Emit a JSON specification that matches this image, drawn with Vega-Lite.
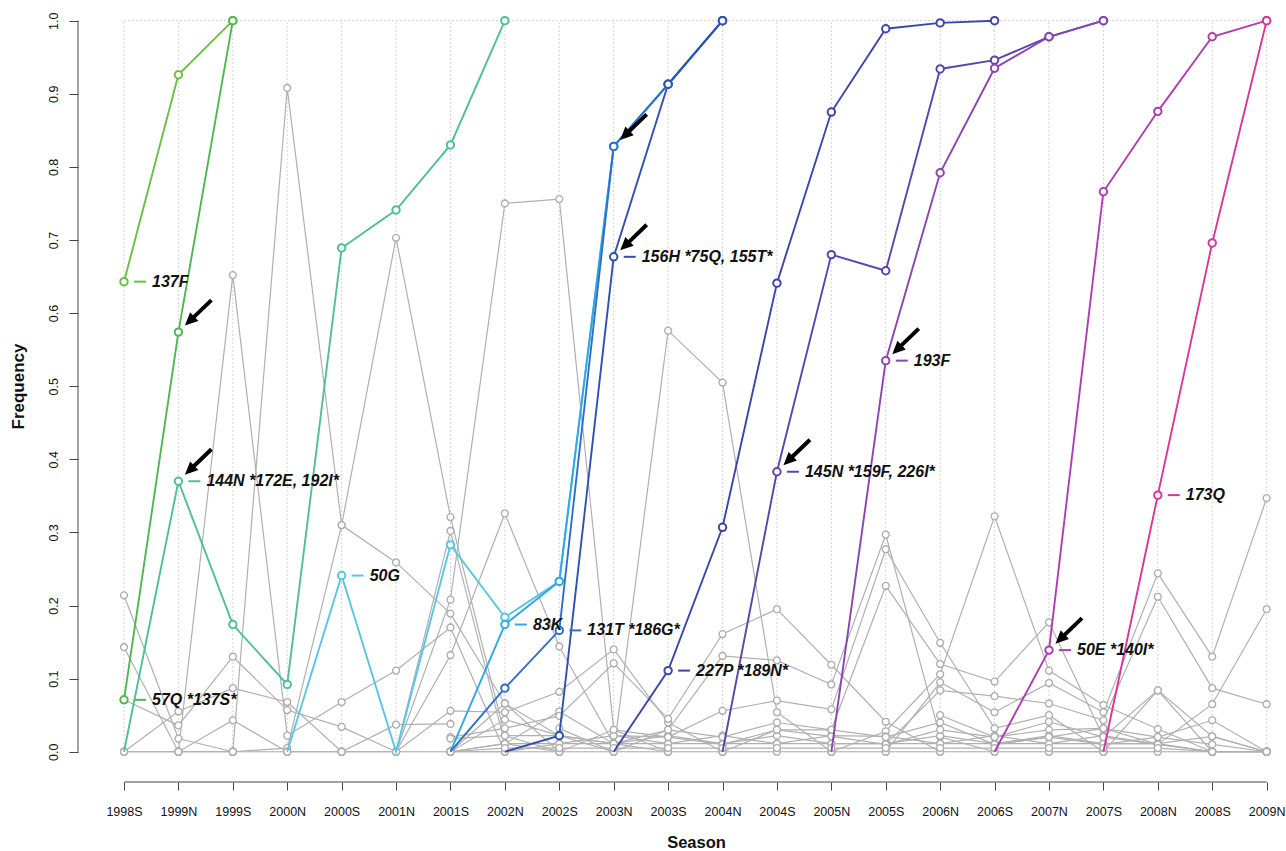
{
  "$schema": "https://vega.github.io/schema/vega-lite/v6.json",
  "width": 1208,
  "height": 782,
  "autosize": {"type": "none"},
  "padding": {"left": 78, "top": 0, "right": 0, "bottom": 69},
  "background": "white",
  "config": {"view": {"stroke": null}},
  "datasets": {
    "seasons": [
      {"i":0,"s":"1998S"},{"i":1,"s":"1999N"},{"i":2,"s":"1999S"},{"i":3,"s":"2000N"},{"i":4,"s":"2000S"},{"i":5,"s":"2001N"},{"i":6,"s":"2001S"},{"i":7,"s":"2002N"},{"i":8,"s":"2002S"},{"i":9,"s":"2003N"},{"i":10,"s":"2003S"},{"i":11,"s":"2004N"},{"i":12,"s":"2004S"},{"i":13,"s":"2005N"},{"i":14,"s":"2005S"},{"i":15,"s":"2006N"},{"i":16,"s":"2006S"},{"i":17,"s":"2007N"},{"i":18,"s":"2007S"},{"i":19,"s":"2008N"},{"i":20,"s":"2008S"},{"i":21,"s":"2009N"}
    ],
    "gray": [
      {"g":"g1","i":0,"v":0.214},{"g":"g1","i":1,"v":0.018},{"g":"g1","i":2,"v":0},
      {"g":"g2","i":0,"v":0.143},{"g":"g2","i":1,"v":0},{"g":"g2","i":2,"v":0.043},{"g":"g2","i":3,"v":0},
      {"g":"g3","i":0,"v":0.071},{"g":"g3","i":1,"v":0.036},{"g":"g3","i":2,"v":0.13},{"g":"g3","i":3,"v":0.057},{"g":"g3","i":4,"v":0.034},{"g":"g3","i":5,"v":0},
      {"g":"g4","i":0,"v":0},{"g":"g4","i":1,"v":0.055},{"g":"g4","i":2,"v":0.087},{"g":"g4","i":3,"v":0.068},{"g":"g4","i":4,"v":0},{"g":"g4","i":5,"v":0.037},{"g":"g4","i":6,"v":0.038},
      {"g":"g5","i":0,"v":0},{"g":"g5","i":1,"v":0},{"g":"g5","i":2,"v":0.652},{"g":"g5","i":3,"v":0.022},{"g":"g5","i":4,"v":0.068},{"g":"g5","i":5,"v":0.111},{"g":"g5","i":6,"v":0.17},{"g":"g5","i":7,"v":0},
      {"g":"g6","i":1,"v":0},{"g":"g6","i":2,"v":0},{"g":"g6","i":3,"v":0.908},{"g":"g6","i":4,"v":0.31},{"g":"g6","i":5,"v":0.259},{"g":"g6","i":6,"v":0.189},{"g":"g6","i":7,"v":0.066},{"g":"g6","i":8,"v":0},
      {"g":"g7","i":2,"v":0},{"g":"g7","i":3,"v":0.005},{"g":"g7","i":4,"v":0.31},{"g":"g7","i":5,"v":0.703},{"g":"g7","i":6,"v":0.321},{"g":"g7","i":7,"v":0.022},{"g":"g7","i":8,"v":0},
      {"g":"g8","i":3,"v":0},{"g":"g8","i":4,"v":0},{"g":"g8","i":5,"v":0},{"g":"g8","i":6,"v":0.302},{"g":"g8","i":7,"v":0.011},{"g":"g8","i":8,"v":0.055},{"g":"g8","i":9,"v":0.011},
      {"g":"g9","i":5,"v":0},{"g":"g9","i":6,"v":0.208},{"g":"g9","i":7,"v":0.75},{"g":"g9","i":8,"v":0.756},{"g":"g9","i":9,"v":0.03},{"g":"g9","i":10,"v":0},
      {"g":"g10","i":5,"v":0},{"g":"g10","i":6,"v":0.132},{"g":"g10","i":7,"v":0.326},{"g":"g10","i":8,"v":0.144},{"g":"g10","i":9,"v":0.011},{"g":"g10","i":10,"v":0},
      {"g":"g11","i":5,"v":0},{"g":"g11","i":6,"v":0.056},{"g":"g11","i":7,"v":0.054},{"g":"g11","i":8,"v":0.082},{"g":"g11","i":9,"v":0.14},{"g":"g11","i":10,"v":0.04},{"g":"g11","i":11,"v":0},
      {"g":"g12","i":6,"v":0},{"g":"g12","i":7,"v":0.044},{"g":"g12","i":8,"v":0.022},{"g":"g12","i":9,"v":0},{"g":"g12","i":10,"v":0.576},{"g":"g12","i":11,"v":0.505},{"g":"g12","i":12,"v":0.054},{"g":"g12","i":13,"v":0},
      {"g":"g13","i":6,"v":0.02},{"g":"g13","i":7,"v":0.032},{"g":"g13","i":8,"v":0.049},{"g":"g13","i":9,"v":0.121},{"g":"g13","i":10,"v":0.045},{"g":"g13","i":11,"v":0.161},{"g":"g13","i":12,"v":0.195},{"g":"g13","i":13,"v":0.119},{"g":"g13","i":14,"v":0.041},{"g":"g13","i":15,"v":0},
      {"g":"g14","i":8,"v":0.032},{"g":"g14","i":9,"v":0},{"g":"g14","i":10,"v":0.03},{"g":"g14","i":11,"v":0.131},{"g":"g14","i":12,"v":0.125},{"g":"g14","i":13,"v":0.092},{"g":"g14","i":14,"v":0.297},{"g":"g14","i":15,"v":0.02},{"g":"g14","i":16,"v":0},
      {"g":"g15","i":9,"v":0.022},{"g":"g15","i":10,"v":0.02},{"g":"g15","i":11,"v":0.056},{"g":"g15","i":12,"v":0.07},{"g":"g15","i":13,"v":0.058},{"g":"g15","i":14,"v":0.277},{"g":"g15","i":15,"v":0.149},{"g":"g15","i":16,"v":0.032},{"g":"g15","i":17,"v":0.05},{"g":"g15","i":18,"v":0},
      {"g":"g16","i":11,"v":0},{"g":"g16","i":12,"v":0.03},{"g":"g16","i":13,"v":0.03},{"g":"g16","i":14,"v":0.227},{"g":"g16","i":15,"v":0.12},{"g":"g16","i":16,"v":0.096},{"g":"g16","i":17,"v":0.177},{"g":"g16","i":18,"v":0.02},{"g":"g16","i":19,"v":0.084},{"g":"g16","i":20,"v":0},
      {"g":"g17","i":13,"v":0},{"g":"g17","i":14,"v":0.028},{"g":"g17","i":15,"v":0.106},{"g":"g17","i":16,"v":0.322},{"g":"g17","i":17,"v":0.111},{"g":"g17","i":18,"v":0.064},{"g":"g17","i":19,"v":0.031},{"g":"g17","i":20,"v":0},
      {"g":"g18","i":14,"v":0},{"g":"g18","i":15,"v":0.095},{"g":"g18","i":16,"v":0.054},{"g":"g18","i":17,"v":0.094},{"g":"g18","i":18,"v":0.054},{"g":"g18","i":19,"v":0.244},{"g":"g18","i":20,"v":0.13},{"g":"g18","i":21,"v":0.347},
      {"g":"g19","i":14,"v":0.01},{"g":"g19","i":15,"v":0.084},{"g":"g19","i":16,"v":0.076},{"g":"g19","i":17,"v":0.066},{"g":"g19","i":18,"v":0.043},{"g":"g19","i":19,"v":0.212},{"g":"g19","i":20,"v":0.087},{"g":"g19","i":21,"v":0.065},
      {"g":"g20","i":15,"v":0.05},{"g":"g20","i":16,"v":0.02},{"g":"g20","i":17,"v":0.03},{"g":"g20","i":18,"v":0.032},{"g":"g20","i":19,"v":0.01},{"g":"g20","i":20,"v":0.065},{"g":"g20","i":21,"v":0.195},
      {"g":"g21","i":16,"v":0.01},{"g":"g21","i":17,"v":0.02},{"g":"g21","i":18,"v":0.01},{"g":"g21","i":19,"v":0.02},{"g":"g21","i":20,"v":0.043},{"g":"g21","i":21,"v":0},
      {"g":"g22","i":17,"v":0},{"g":"g22","i":18,"v":0},{"g":"g22","i":19,"v":0.084},{"g":"g22","i":20,"v":0.021},{"g":"g22","i":21,"v":0},
      {"g":"n0","i":0,"v":0},{"g":"n0","i":1,"v":0},{"g":"n0","i":2,"v":0},{"g":"n0","i":3,"v":0},{"g":"n0","i":4,"v":0},{"g":"n0","i":5,"v":0},{"g":"n0","i":6,"v":0},{"g":"n0","i":7,"v":0},{"g":"n0","i":8,"v":0},{"g":"n0","i":9,"v":0},{"g":"n0","i":10,"v":0},{"g":"n0","i":11,"v":0},{"g":"n0","i":12,"v":0},{"g":"n0","i":13,"v":0},{"g":"n0","i":14,"v":0},{"g":"n0","i":15,"v":0},{"g":"n0","i":16,"v":0},{"g":"n0","i":17,"v":0},{"g":"n0","i":18,"v":0},{"g":"n0","i":19,"v":0},{"g":"n0","i":20,"v":0},{"g":"n0","i":21,"v":0},
      {"g":"n1","i":6,"v":0},{"g":"n1","i":7,"v":0.011},{"g":"n1","i":8,"v":0.011},{"g":"n1","i":9,"v":0.011},{"g":"n1","i":10,"v":0.011},{"g":"n1","i":11,"v":0.011},{"g":"n1","i":12,"v":0.011},{"g":"n1","i":13,"v":0.011},{"g":"n1","i":14,"v":0.011},{"g":"n1","i":15,"v":0.011},{"g":"n1","i":16,"v":0.011},{"g":"n1","i":17,"v":0.011},{"g":"n1","i":18,"v":0.011},{"g":"n1","i":19,"v":0.011},{"g":"n1","i":20,"v":0},{"g":"n1","i":21,"v":0},
      {"g":"n2","i":6,"v":0.018},{"g":"n2","i":7,"v":0.022},{"g":"n2","i":8,"v":0.022},{"g":"n2","i":9,"v":0.011},{"g":"n2","i":10,"v":0.022},{"g":"n2","i":11,"v":0.011},{"g":"n2","i":12,"v":0.022},{"g":"n2","i":13,"v":0.011},{"g":"n2","i":14,"v":0.011},{"g":"n2","i":15,"v":0.022},{"g":"n2","i":16,"v":0.011},{"g":"n2","i":17,"v":0.022},{"g":"n2","i":18,"v":0.011},{"g":"n2","i":19,"v":0.011},{"g":"n2","i":20,"v":0.021},{"g":"n2","i":21,"v":0},
      {"g":"n3","i":6,"v":0},{"g":"n3","i":7,"v":0},{"g":"n3","i":8,"v":0.011},{"g":"n3","i":9,"v":0.022},{"g":"n3","i":10,"v":0.011},{"g":"n3","i":11,"v":0.022},{"g":"n3","i":12,"v":0.011},{"g":"n3","i":13,"v":0.022},{"g":"n3","i":14,"v":0.021},{"g":"n3","i":15,"v":0.011},{"g":"n3","i":16,"v":0.022},{"g":"n3","i":17,"v":0.011},{"g":"n3","i":18,"v":0.022},{"g":"n3","i":19,"v":0.01},{"g":"n3","i":20,"v":0},{"g":"n3","i":21,"v":0},
      {"g":"n4","i":6,"v":0},{"g":"n4","i":7,"v":0.011},{"g":"n4","i":8,"v":0},{"g":"n4","i":9,"v":0.03},{"g":"n4","i":10,"v":0.02},{"g":"n4","i":11,"v":0.01},{"g":"n4","i":12,"v":0.03},{"g":"n4","i":13,"v":0.021},{"g":"n4","i":14,"v":0.01},{"g":"n4","i":15,"v":0.03},{"g":"n4","i":16,"v":0.02},{"g":"n4","i":17,"v":0.041},{"g":"n4","i":18,"v":0.02},{"g":"n4","i":19,"v":0.01},{"g":"n4","i":20,"v":0},{"g":"n4","i":21,"v":0},
      {"g":"n5","i":6,"v":0},{"g":"n5","i":7,"v":0.066},{"g":"n5","i":8,"v":0.022},{"g":"n5","i":9,"v":0.011},{"g":"n5","i":10,"v":0.03},{"g":"n5","i":11,"v":0.02},{"g":"n5","i":12,"v":0.04},{"g":"n5","i":13,"v":0.03},{"g":"n5","i":14,"v":0.02},{"g":"n5","i":15,"v":0.04},{"g":"n5","i":16,"v":0.01},{"g":"n5","i":17,"v":0.02},{"g":"n5","i":18,"v":0.032},{"g":"n5","i":19,"v":0.02},{"g":"n5","i":20,"v":0.01},{"g":"n5","i":21,"v":0},
      {"g":"n6","i":6,"v":0},{"g":"n6","i":7,"v":0.005},{"g":"n6","i":8,"v":0.005},{"g":"n6","i":9,"v":0.005},{"g":"n6","i":10,"v":0.005},{"g":"n6","i":11,"v":0.005},{"g":"n6","i":12,"v":0.005},{"g":"n6","i":13,"v":0.005},{"g":"n6","i":14,"v":0.005},{"g":"n6","i":15,"v":0.005},{"g":"n6","i":16,"v":0.005},{"g":"n6","i":17,"v":0.005},{"g":"n6","i":18,"v":0.005},{"g":"n6","i":19,"v":0.005},{"g":"n6","i":20,"v":0},{"g":"n6","i":21,"v":0}
    ],
    "col": [
      {"m":"137F","i":0,"v":0.643},{"m":"137F","i":1,"v":0.926},{"m":"137F","i":2,"v":1.0},
      {"m":"57Q","i":0,"v":0.071},{"m":"57Q","i":1,"v":0.574},{"m":"57Q","i":2,"v":1.0},
      {"m":"144N","i":0,"v":0},{"m":"144N","i":1,"v":0.37},{"m":"144N","i":2,"v":0.174},{"m":"144N","i":3,"v":0.092},{"m":"144N","i":4,"v":0.689},{"m":"144N","i":5,"v":0.741},{"m":"144N","i":6,"v":0.83},{"m":"144N","i":7,"v":1.0},
      {"m":"50G","i":3,"v":0},{"m":"50G","i":4,"v":0.241},{"m":"50G","i":5,"v":0},{"m":"50G","i":6,"v":0.283},{"m":"50G","i":7,"v":0.184},{"m":"50G","i":8,"v":0.233},{"m":"50G","i":9,"v":0.828},{"m":"50G","i":10,"v":0.913},{"m":"50G","i":11,"v":1.0},
      {"m":"83K","i":6,"v":0},{"m":"83K","i":7,"v":0.174},{"m":"83K","i":8,"v":0.233},{"m":"83K","i":9,"v":0.828},{"m":"83K","i":10,"v":0.913},{"m":"83K","i":11,"v":1.0},
      {"m":"131T","i":6,"v":0},{"m":"131T","i":7,"v":0.087},{"m":"131T","i":8,"v":0.166},{"m":"131T","i":9,"v":0.828},{"m":"131T","i":10,"v":0.913},{"m":"131T","i":11,"v":1.0},
      {"m":"156H","i":7,"v":0},{"m":"156H","i":8,"v":0.022},{"m":"156H","i":9,"v":0.677},{"m":"156H","i":10,"v":0.913},{"m":"156H","i":11,"v":1.0},
      {"m":"227P","i":9,"v":0},{"m":"227P","i":10,"v":0.111},{"m":"227P","i":11,"v":0.307},{"m":"227P","i":12,"v":0.641},{"m":"227P","i":13,"v":0.875},{"m":"227P","i":14,"v":0.989},{"m":"227P","i":15,"v":0.997},{"m":"227P","i":16,"v":1.0},
      {"m":"145N","i":11,"v":0},{"m":"145N","i":12,"v":0.383},{"m":"145N","i":13,"v":0.68},{"m":"145N","i":14,"v":0.658},{"m":"145N","i":15,"v":0.934},{"m":"145N","i":16,"v":0.946},{"m":"145N","i":17,"v":0.978},{"m":"145N","i":18,"v":1.0},
      {"m":"193F","i":13,"v":0},{"m":"193F","i":14,"v":0.535},{"m":"193F","i":15,"v":0.792},{"m":"193F","i":16,"v":0.935},{"m":"193F","i":17,"v":0.978},{"m":"193F","i":18,"v":1.0},
      {"m":"50E","i":16,"v":0},{"m":"50E","i":17,"v":0.139},{"m":"50E","i":18,"v":0.766},{"m":"50E","i":19,"v":0.876},{"m":"50E","i":20,"v":0.978},{"m":"50E","i":21,"v":1.0},
      {"m":"173Q","i":18,"v":0},{"m":"173Q","i":19,"v":0.351},{"m":"173Q","i":20,"v":0.696},{"m":"173Q","i":21,"v":1.0}
    ],
    "labels": [
      {"m":"137F","i":0,"v":0.643,"t":"137F"},
      {"m":"57Q","i":0,"v":0.071,"t":"57Q *137S*"},
      {"m":"144N","i":1,"v":0.37,"t":"144N *172E, 192I*"},
      {"m":"50G","i":4,"v":0.241,"t":"50G"},
      {"m":"83K","i":7,"v":0.174,"t":"83K"},
      {"m":"131T","i":8,"v":0.166,"t":"131T *186G*"},
      {"m":"156H","i":9,"v":0.677,"t":"156H *75Q, 155T*"},
      {"m":"227P","i":10,"v":0.111,"t":"227P *189N*"},
      {"m":"145N","i":12,"v":0.383,"t":"145N *159F, 226I*"},
      {"m":"193F","i":14,"v":0.535,"t":"193F"},
      {"m":"50E","i":17,"v":0.139,"t":"50E *140I*"},
      {"m":"173Q","i":19,"v":0.351,"t":"173Q"}
    ],
    "arrows": [
      {"i":1,"v":0.574},{"i":1,"v":0.37},{"i":9,"v":0.828},{"i":9,"v":0.677},{"i":12,"v":0.383},{"i":14,"v":0.535},{"i":17,"v":0.139}
    ]
  },
  "layer": [
    {
      "data": {"name": "seasons"},
      "mark": {"type": "rule", "color": "#c4c4c4", "strokeWidth": 1, "strokeDash": [1.5, 2.5]},
      "encoding": {
        "x": {
          "field": "i", "type": "quantitative",
          "scale": {"domain": [-0.8454, 21.356], "nice": false, "zero": false},
          "axis": {
            "values": [0,1,2,3,4,5,6,7,8,9,10,11,12,13,14,15,16,17,18,19,20,21],
            "labelExpr": "['1998S','1999N','1999S','2000N','2000S','2001N','2001S','2002N','2002S','2003N','2003S','2004N','2004S','2005N','2005S','2006N','2006S','2007N','2007S','2008N','2008S','2009N'][datum.value]",
            "domain": false, "grid": false, "ticks": true, "tickSize": 8, "tickColor": "#444", "tickWidth": 1,
            "labelFont": "Liberation Sans", "labelFontSize": 12.5, "labelColor": "#111", "labelAngle": 0,
            "labelBaseline": "middle", "labelAlign": "center", "labelPadding": 21, "labelFlush": false, "labelOverlap": false,
            "title": "Season", "titleFont": "Liberation Sans", "titleFontSize": 16.5, "titleFontWeight": "bold", "titleColor": "#111",
            "titleX": 618, "titleY": 60, "titleAlign": "center", "titleBaseline": "middle", "titleAngle": 0
          }
        },
        "y": {
          "datum": 0, "type": "quantitative",
          "scale": {"domain": [-0.0414, 1.0283], "nice": false, "zero": false},
          "axis": {
            "values": [0,0.1,0.2,0.3,0.4,0.5,0.6,0.7,0.8,0.9,1.0], "format": ".1f",
            "domain": false, "grid": false, "ticks": true, "tickSize": 9, "tickColor": "#444", "tickWidth": 1,
            "labelFont": "Liberation Sans", "labelFontSize": 12.5, "labelColor": "#111", "labelAngle": 270,
            "labelAlign": "center", "labelBaseline": "middle", "labelPadding": 16, "labelFlush": false, "labelOverlap": false,
            "title": "Frequency", "titleFont": "Liberation Sans", "titleFontSize": 17, "titleFontWeight": "bold", "titleColor": "#111",
            "titleX": -60, "titleY": 386, "titleAlign": "center", "titleBaseline": "middle", "titleAngle": 270
          }
        },
        "y2": {"datum": 1}
      }
    },
    {
      "data": {"values": [{"h": 0}, {"h": 1}]},
      "mark": {"type": "rule", "color": "#c4c4c4", "strokeWidth": 1, "strokeDash": [1.5, 2.5]},
      "encoding": {
        "y": {"field": "h", "type": "quantitative"},
        "x": {"datum": 0},
        "x2": {"datum": 21}
      }
    },
    {
      "data": {"values": [{"k": 1}]},
      "mark": {"type": "rule", "color": "#444", "strokeWidth": 1},
      "encoding": {
        "x": {"datum": 0},
        "x2": {"datum": 21},
        "y": {"datum": -0.0414}
      }
    },
    {
      "data": {"values": [{"k": 1}]},
      "mark": {"type": "rule", "color": "#444", "strokeWidth": 1},
      "encoding": {
        "x": {"datum": -0.8454},
        "y": {"datum": 0},
        "y2": {"datum": 1}
      }
    },
    {
      "data": {"name": "gray"},
      "mark": {"type": "line", "color": "#b0b0b0", "strokeWidth": 1.2},
      "encoding": {
        "x": {"field": "i", "type": "quantitative"},
        "y": {"field": "v", "type": "quantitative"},
        "detail": {"field": "g"}
      }
    },
    {
      "data": {"name": "gray"},
      "mark": {"type": "point", "shape": "circle", "size": 48, "filled": true, "fill": "white", "stroke": "#acacac", "strokeWidth": 1.3, "opacity": 1},
      "encoding": {
        "x": {"field": "i", "type": "quantitative"},
        "y": {"field": "v", "type": "quantitative"}
      }
    },
    {
      "data": {"name": "col"},
      "mark": {"type": "line", "strokeWidth": 1.9},
      "encoding": {
        "x": {"field": "i", "type": "quantitative"},
        "y": {"field": "v", "type": "quantitative"},
        "color": {
          "field": "m", "type": "nominal", "legend": null,
          "scale": {
            "domain": ["137F","57Q","144N","50G","83K","131T","156H","227P","145N","193F","50E","173Q"],
            "range": ["#6cbf45","#52b650","#4fbf95","#58c6e2","#2fa8e6","#2f6fc8","#3050b2","#3d45a8","#5845ae","#8a45ae","#b03db0","#d8369a"]
          }
        }
      }
    },
    {
      "data": {"name": "col"},
      "transform": [{"filter": "datum.v > 0"}],
      "mark": {"type": "point", "shape": "circle", "size": 55, "filled": true, "fill": "white", "strokeWidth": 2, "opacity": 1},
      "encoding": {
        "x": {"field": "i", "type": "quantitative"},
        "y": {"field": "v", "type": "quantitative"},
        "stroke": {
          "field": "m", "type": "nominal", "legend": null,
          "scale": {
            "domain": ["137F","57Q","144N","50G","83K","131T","156H","227P","145N","193F","50E","173Q"],
            "range": ["#6cbf45","#52b650","#4fbf95","#58c6e2","#2fa8e6","#2f6fc8","#3050b2","#3d45a8","#5845ae","#8a45ae","#b03db0","#d8369a"]
          }
        }
      }
    },
    {
      "data": {"name": "labels"},
      "mark": {"type": "rule", "strokeWidth": 2, "xOffset": 10, "x2Offset": 22},
      "encoding": {
        "x": {"field": "i", "type": "quantitative"},
        "x2": {"field": "i"},
        "y": {"field": "v", "type": "quantitative"},
        "color": {"field": "m", "type": "nominal", "legend": null}
      }
    },
    {
      "data": {"name": "labels"},
      "mark": {"type": "text", "align": "left", "baseline": "middle", "dx": 28, "font": "Liberation Sans", "fontSize": 16, "fontStyle": "italic", "fontWeight": "bold", "color": "#111"},
      "encoding": {
        "x": {"field": "i", "type": "quantitative"},
        "y": {"field": "v", "type": "quantitative"},
        "text": {"field": "t"}
      }
    },
    {
      "data": {"name": "arrows"},
      "mark": {"type": "point", "shape": "M0.191,-0.191L0.588,-0.329L0.507,-0.414L1.011,-0.899L0.930,-0.984L0.426,-0.498L0.344,-0.583Z", "size": 4624, "filled": true, "fill": "black", "strokeWidth": 0, "opacity": 1},
      "encoding": {
        "x": {"field": "i", "type": "quantitative"},
        "y": {"field": "v", "type": "quantitative"}
      }
    }
  ]
}
